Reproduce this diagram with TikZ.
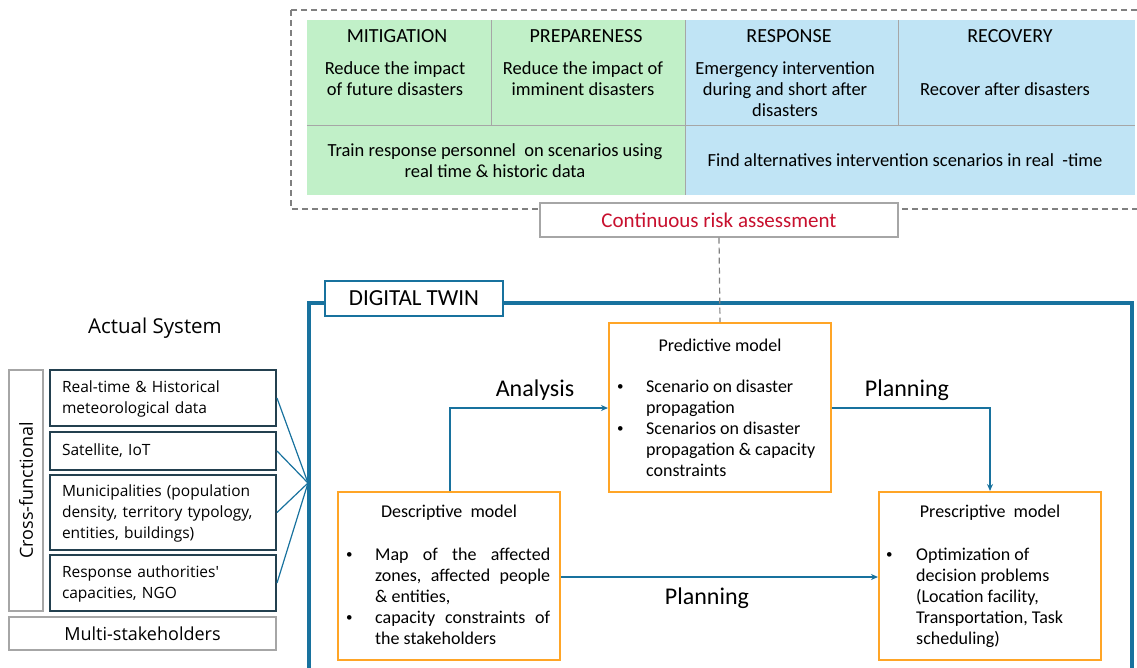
\documentclass[tikz,border=0pt]{standalone}
\usepackage{fontspec}
\setmainfont{Carlito}
\newfontfamily\srcfont{Open Sans}
\usetikzlibrary{positioning,arrows.meta}

\definecolor{dtblue}{HTML}{18729E}
\definecolor{mitgreen}{HTML}{C1F0C8}
\definecolor{respblue}{HTML}{C0E4F5}
\definecolor{modelorange}{HTML}{FFA526}
\definecolor{srcdark}{HTML}{23404F}
\definecolor{riskred}{HTML}{C8102E}
\definecolor{gridgray}{HTML}{A6A6A6}

\newcommand{\dotitem}{\raisebox{1.5pt}{\fontsize{13}{13}\selectfont\textbullet}}

\tikzset{
  cell/.style={draw=gridgray, line width=0.8pt},
  headtext/.style={font=\fontsize{20}{22}\selectfont},
  desctext/.style={font=\fontsize{18.5}{21}\selectfont, align=center, inner sep=0pt},
  modelbox/.style={draw=modelorange, line width=2pt, fill=white, minimum width=222, minimum height=168},
  modeltext/.style={font=\fontsize{18}{21}\selectfont, inner sep=0pt},
  srcbox/.style={draw=srcdark, line width=2pt, minimum width=226, text width=202pt, align=left,
    inner xsep=12pt, inner ysep=0pt, font=\srcfont\fontsize{15.5}{21}\selectfont},
  greybox/.style={draw=gridgray, line width=1.2pt, fill=white, inner sep=0pt},
  flow/.style={draw=dtblue, line width=1.3pt, -{Stealth[length=7pt,width=6pt]}},
  flowlabel/.style={font=\fontsize{24}{26}\selectfont},
  feed/.style={draw=dtblue, line width=1.2pt},
  dashbox/.style={draw=gray, line width=1.2pt, dash pattern=on 6pt off 4pt}
}

\begin{document}
\begin{tikzpicture}[x=1pt,y=-1pt]
  \useasboundingbox (0,0) rectangle (1137,667);

  % disaster management phases
  \draw[dashbox] (291,10) rectangle (1145,209);
  \fill[mitgreen] (307,20) rectangle (685,195);
  \fill[respblue] (685,20) rectangle (1135,195);
  \draw[cell] (491,20) -- (491,125);
  \draw[cell] (898,20) -- (898,125);
  \draw[cell] (685,20) -- (685,195);
  \draw[cell] (307,125) -- (1135,125);

  \node[headtext] (mithead) at (397,36) {MITIGATION};
  \node[headtext] (prephead) at (586,36) {PREPARENESS};
  \node[headtext] (resphead) at (789,36) {RESPONSE};
  \node[headtext] (rechead) at (1010,36) {RECOVERY};
  \node[desctext] (mitdesc) at (395,79) {Reduce the impact\\of future disasters};
  \node[desctext] (prepdesc) at (583,79) {Reduce the impact of\\imminent disasters};
  \node[desctext] (respdesc) at (785,89.5) {Emergency intervention\\during and short after\\disasters};
  \node[desctext] (recdesc) at (1005,89) {Recover after disasters};
  \node[desctext] (train) at (495,161) {Train response personnel\ \ on scenarios using\\real time \& historic data};
  \node[desctext] (find) at (905,160) {Find alternatives intervention scenarios in real\ \ -time};

  \node[greybox, minimum width=358, minimum height=34, text=riskred,
    font=\fontsize{21}{23}\selectfont] (risk) at (719,220) {Continuous risk assessment};

  % digital twin frame
  \draw[draw=dtblue, line width=4.5pt] (309,670) |- (1132,303) -- (1132,670);
  \node[draw=dtblue, line width=2.5pt, fill=white, minimum width=178, minimum height=35,
    font=\fontsize{23}{25}\selectfont] (dtlabel) at (414,298.5) {DIGITAL TWIN};

  % models
  \node[modelbox, minimum height=169] (pred) at (720,407.5) {};
  \node[modelbox] (desc) at (449,576) {};
  \node[modelbox] (presc) at (990,576) {};

  \node[modeltext] (predtitle) at (720,345) {Predictive model};
  \node[modeltext, anchor=base west] (predlist) at (617,392) {\begin{tabular}[t]{@{}p{29pt}@{}l@{}}
    \dotitem & Scenario on disaster\\
    & propagation\\
    \dotitem & Scenarios on disaster\\
    & propagation \& capacity\\
    & constraints
  \end{tabular}};

  \node[modeltext] (desctitle) at (449,513) {Descriptive\ \ model};
  \node[modeltext, anchor=base west] (desclist) at (346,560) {\begin{tabular}[t]{@{}p{29pt}@{}l@{}}
    \dotitem & \hbox to 175pt{Map\hfill of\hfill the\hfill affected}\\
    & \hbox to 175pt{zones,\hfill affected\hfill people}\\
    & \& entities,\\
    \dotitem & \hbox to 175pt{capacity\hfill constraints\hfill of}\\
    & the stakeholders
  \end{tabular}};

  \node[modeltext] (presctitle) at (990,513) {Prescriptive\ \ model};
  \node[modeltext, anchor=base west] (presclist) at (886,560) {\begin{tabular}[t]{@{}p{30pt}@{}l@{}}
    \dotitem & Optimization of\\
    & decision problems\\
    & (Location facility,\\
    & Transportation, Task\\
    & scheduling)
  \end{tabular}};

  \draw[dashbox] (risk.south) -- (pred.north);

  % model flows
  \coordinate (analysisturn) at (450,408);
  \coordinate (planturn) at (990,408);
  \draw[flow] (desc.north -| analysisturn) |- (pred.west |- analysisturn);
  \draw[flow] (pred.east |- planturn) -| (presc.north);
  \draw[flow] (desc.east |- 0,577) -- (presc.west |- 0,577);
  \node[flowlabel] (analysis) at (535,390) {Analysis};
  \node[flowlabel] (planning) at (907,390) {Planning};
  \node[flowlabel] (planningb) at (707,598) {Planning};

  % actual system
  \node[font=\srcfont\fontsize{20.5}{22}\selectfont] (actual) at (155,328) {Actual System};
  \node[greybox, rotate=90, minimum width=241, minimum height=34,
    font=\srcfont\fontsize{18}{20}\selectfont] (cross) at (26,490.5) {Cross-functional};
  \node[greybox, minimum width=267, minimum height=33,
    font=\srcfont\fontsize{18}{20}\selectfont] (multi) at (142.5,633.5) {Multi-stakeholders};

  \node[srcbox, minimum height=56] (meteo) at (163,398) {\strut Real-time \& Historical\\meteorological data};
  \node[srcbox, minimum height=38] (sat) at (163,451) {\strut Satellite, IoT};
  \node[srcbox, minimum height=75] (muni) at (163,512.5) {\strut Municipalities (population\\density, territory typology,\\entities, buildings)};
  \node[srcbox, minimum height=56] (auth) at (163,583) {\strut Response authorities'\\capacities, NGO};

  \coordinate (feedin) at (308,483);
  \foreach \src in {meteo,sat,muni,auth}
    \draw[feed] (\src.east) -- (feedin);
\end{tikzpicture}
\end{document}
